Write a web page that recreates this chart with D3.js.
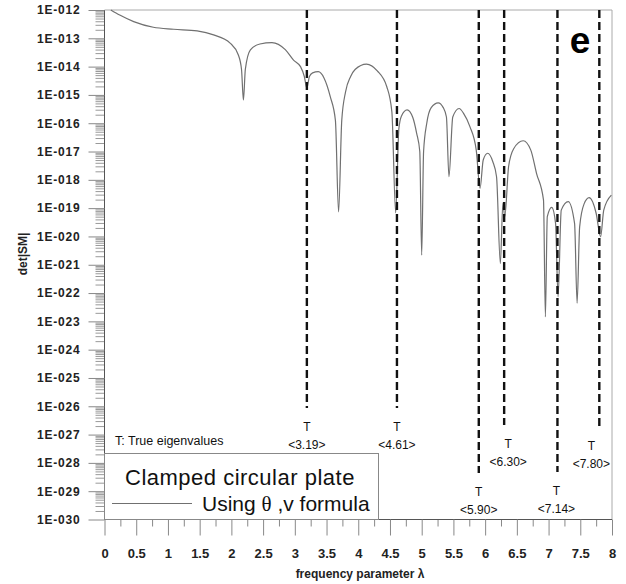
<!DOCTYPE html>
<html>
<head>
<meta charset="utf-8">
<script src="https://cdn.jsdelivr.net/npm/d3@7"></script>
<style>
  body { margin: 0; background: #fff; }
  text { font-family: "Liberation Sans", Arial, sans-serif; }
</style>
</head>
<body>
<div id="chart"></div>
<script>
// Data
var lambda = [0.1, 0.24, 0.46, 0.77, 1.09, 1.46, 1.72, 1.98, 2.11, 2.16, 2.19, 2.22, 2.30, 2.45, 2.64,
    2.85, 2.98, 3.09, 3.15, 3.19, 3.23, 3.28, 3.37, 3.46, 3.56, 3.64, 3.69, 3.74, 3.80, 3.88, 3.95, 4.13,
    4.30, 4.45, 4.53, 4.59, 4.64, 4.68, 4.77, 4.86, 4.92, 4.97, 5.00, 5.03, 5.08, 5.15, 5.26, 5.34, 5.39, 5.43, 5.49,
    5.59, 5.66, 5.76, 5.86, 5.92, 5.97, 6.04, 6.12, 6.18, 6.24, 6.28, 6.31, 6.37, 6.45, 6.60, 6.72, 6.81, 6.92,
    6.95, 6.98, 7.05, 7.11, 7.15, 7.20, 7.31, 7.41, 7.45, 7.49, 7.56, 7.64, 7.75, 7.82, 7.87, 7.99];
// log10 of det|SM|
var logDet = [-12.0, -12.18, -12.41, -12.61, -12.68, -12.74, -12.88, -13.17, -13.59, -14.1, -15.18, -14.1, -13.41, -13.2, -13.15,
    -13.4, -13.77, -14.0, -14.35, -14.76, -14.35, -14.22, -14.18, -14.4, -15.07, -15.9, -19.13, -15.9, -14.89, -14.35, -14.1, -13.91,
    -14.15, -14.71, -15.6, -19.17, -16.2, -15.75, -15.53, -15.8, -16.35, -17.0, -20.66, -17.0, -16.0, -15.45, -15.28, -15.45, -15.78, -17.89, -15.78,
    -15.48, -15.65, -16.12, -16.95, -18.3, -17.3, -17.06, -17.35, -17.89, -20.96, -18.82, -19.3, -17.53, -16.9, -16.62, -16.95, -17.77, -18.71,
    -22.84, -19.3, -18.97, -19.53, -22.13, -19.07, -18.77, -19.54, -22.36, -19.66, -18.85, -18.63, -19.18, -20.01, -19.07, -18.54];

var eigenValues = [3.19, 4.61, 5.90, 6.30, 7.14, 7.80];
var eigenLabels = ["<3.19>", "<4.61>", "<5.90>", "<6.30>", "<7.14>", "<7.80>"];

var xTicks = [0, 0.5, 1, 1.5, 2, 2.5, 3, 3.5, 4, 4.5, 5, 5.5, 6, 6.5, 7, 7.5, 8];
var xMinorTicks = [0.25, 0.75, 1.25, 1.75, 2.25, 2.75, 3.25, 3.75, 4.25, 4.75, 5.25, 5.75, 6.25, 6.75, 7.25, 7.75];
var yDecades = [-12, -13, -14, -15, -16, -17, -18, -19, -20, -21, -22, -23, -24, -25, -26, -27, -28, -29, -30];

// layout of the eigenvalue markers (line bottom, label shift)
var markerBottom = [408, 408, 473, 425, 472, 427];
var markerShift = [0, 0, 0, 4, -1, -8];

// Width and height
var chart_width = 626;
var chart_height = 584;
var plotLeft = 104.5, plotRight = 612, plotTop = 10, plotBottom = 519.5;

var svg = d3.select("#chart")
    .append("svg")
    .attr("width", chart_width)
    .attr("height", chart_height);

var x = d3.scaleLinear().domain([0, 8]).range([plotLeft, plotRight]);
var y = d3.scaleLog().domain([1e-30, 1e-12]).range([plotBottom, plotTop]);

// minor log ticks for the y axis
var yMinor = [];
yDecades.slice(1).forEach(function (e) {
    for (var k = 2; k <= 9; k++) yMinor.push(k * Math.pow(10, e));
});

// frame (top and right)
svg.append("path")
    .attr("d", "M" + plotLeft + "," + plotTop + "H" + plotRight + "V" + plotBottom)
    .attr("fill", "none")
    .style("stroke", "#aaa")
    .style("stroke-width", 1);

// Y axis
var yMinorAxis = svg.append("g")
    .attr("transform", "translate(" + plotLeft + ",0)")
    .call(d3.axisLeft(y).tickValues(yMinor).tickSize(9).tickFormat(""));
yMinorAxis.select(".domain").remove();
yMinorAxis.selectAll("line").style("stroke", "#999");

var yAxis = svg.append("g")
    .attr("transform", "translate(" + plotLeft + ",0)")
    .call(d3.axisLeft(y)
        .tickValues(yDecades.map(function (e) { return Math.pow(10, e); }))
        .tickSize(16)
        .tickPadding(8)
        .tickFormat(function (d) {
            var e = Math.round(Math.log10(d));
            return "1E-" + String(-e).padStart(3, "0");
        }));
yAxis.select(".domain").style("stroke", "#555").attr("d", "M0," + plotTop + "V" + plotBottom);
yAxis.selectAll("line").style("stroke", "#888");
yAxis.selectAll("text")
    .style("font-size", "12px")
    .style("font-weight", "bold")
    .style("letter-spacing", "0.8px")
    .style("fill", "#222");

// X axis
var xMinorAxis = svg.append("g")
    .attr("transform", "translate(0," + plotBottom + ")")
    .call(d3.axisBottom(x).tickValues(xMinorTicks).tickSize(7).tickFormat(""));
xMinorAxis.select(".domain").remove();
xMinorAxis.selectAll("line").style("stroke", "#888");

var xAxis = svg.append("g")
    .attr("transform", "translate(0," + plotBottom + ")")
    .call(d3.axisBottom(x)
        .tickValues(xTicks)
        .tickSize(16)
        .tickPadding(13)
        .tickFormat(d3.format("")));
xAxis.select(".domain").style("stroke", "#555").attr("d", "M" + plotLeft + ",0H" + plotRight);
xAxis.selectAll("line").style("stroke", "#888");
xAxis.selectAll("text")
    .style("font-size", "13px")
    .style("font-weight", "bold")
    .style("fill", "#222");

// axis titles
svg.append("text")
    .attr("x", 360).attr("y", 578)
    .attr("text-anchor", "middle")
    .style("font-size", "12px")
    .style("font-weight", "bold")
    .style("fill", "#222")
    .text("frequency parameter λ");

svg.append("text")
    .attr("transform", "translate(27,254) rotate(-90)")
    .attr("text-anchor", "middle")
    .style("font-size", "12px")
    .style("font-weight", "bold")
    .style("fill", "#222")
    .text("det|SM|");

// curve
var points = lambda.map(function (l, i) { return [l, Math.pow(10, logDet[i])]; });
var line = d3.line()
    .x(function (d) { return x(d[0]); })
    .y(function (d) { return y(d[1]); })
    .curve(d3.curveMonotoneX);

svg.append("path")
    .datum(points)
    .attr("d", line)
    .attr("fill", "none")
    .style("stroke", "#707070")
    .style("stroke-width", 1.2);

// true eigenvalue markers
var markers = svg.selectAll(".marker")
    .data(eigenValues)
    .enter()
    .append("g")
    .attr("class", "marker");

markers.append("line")
    .attr("x1", function (d) { return x(d); })
    .attr("x2", function (d) { return x(d); })
    .attr("y1", plotTop)
    .attr("y2", function (d, i) { return markerBottom[i]; })
    .style("stroke", "#111")
    .style("stroke-width", 2.4)
    .style("stroke-dasharray", "8,4");

markers.append("text")
    .attr("x", function (d, i) { return x(d) + markerShift[i]; })
    .attr("y", function (d, i) { return markerBottom[i] + 23; })
    .attr("text-anchor", "middle")
    .style("font-size", "12px")
    .style("fill", "#111")
    .text("T");

markers.append("text")
    .attr("x", function (d, i) { return x(d) + markerShift[i]; })
    .attr("y", function (d, i) { return markerBottom[i] + 41; })
    .attr("text-anchor", "middle")
    .style("font-size", "12px")
    .style("fill", "#111")
    .text(function (d, i) { return eigenLabels[i]; });

svg.append("text")
    .attr("x", 115).attr("y", 445)
    .style("font-size", "12.5px")
    .style("fill", "#111")
    .text("T: True eigenvalues");

// legend
svg.append("rect")
    .attr("x", plotLeft).attr("y", 453.5)
    .attr("width", 378.5 - plotLeft).attr("height", plotBottom - 453.5)
    .attr("fill", "#fff")
    .style("stroke", "#888")
    .style("stroke-width", 1);

svg.append("text")
    .attr("x", 125).attr("y", 485)
    .style("font-size", "22px")
    .style("letter-spacing", "0.5px")
    .style("fill", "#111")
    .text("Clamped circular plate");

svg.append("line")
    .attr("x1", 112).attr("x2", 192)
    .attr("y1", 503.5).attr("y2", 503.5)
    .style("stroke", "#707070")
    .style("stroke-width", 1.2);

var legendText = svg.append("text")
    .attr("x", 202).attr("y", 511)
    .style("font-size", "21px")
    .style("fill", "#111");
legendText.append("tspan").text("Using ");
legendText.append("tspan").style("font-family", "'Liberation Serif', serif").text("θ");
legendText.append("tspan").text(" ,v formula");

// panel letter
svg.append("text")
    .attr("x", 580).attr("y", 53)
    .attr("text-anchor", "middle")
    .style("font-size", "37px")
    .style("font-weight", "bold")
    .style("fill", "#000")
    .text("e");
</script>
</body>
</html>
